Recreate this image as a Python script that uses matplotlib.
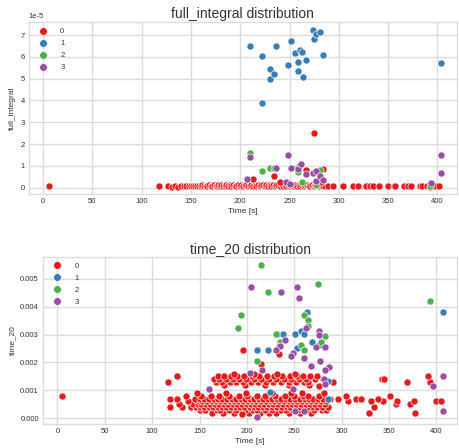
import numpy as np
import matplotlib
matplotlib.use("Agg")
import matplotlib.pyplot as plt
from matplotlib.lines import Line2D

plt.rcParams['font.family'] = ['Liberation Sans', 'DejaVu Sans']
plt.rcParams['axes.unicode_minus'] = False

# cluster colours (Set1)
COLORS = {0: '#e41a1c', 1: '#377eb8', 2: '#4daf4a', 3: '#984ea3'}

# ---------------- full_integral panel (values in units of 1e-5) ----------------
fi_red_t = [6, 118, 127, 131, 134, 137, 140, 143, 145, 148, 150, 152, 154, 156, 158,
            160, 161, 163, 165, 166, 168, 170, 171, 173, 175, 176, 178, 180, 181, 183,
            185, 186, 188, 190, 191, 193, 195, 196, 198, 200, 201, 203, 205, 206, 208,
            210, 211, 213, 215, 216, 218, 220, 221, 223, 225, 226, 228, 230, 231, 233,
            235, 236, 238, 240, 241, 243, 245, 246, 248, 250, 251, 253, 255, 256, 258,
            260, 261, 263, 265, 266, 268, 270, 271, 273, 275, 276, 278, 280, 282, 284,
            286, 289, 294, 304, 314, 319, 328, 332, 335, 341, 350, 356, 357, 366, 370,
            373, 382, 384, 389, 392, 395, 399, 402,
            275.3, 234, 213, 266.5, 284, 240.5, 282]
fi_red_v = [0.07, 0.06, 0.06, 0.05, 0.06, 0.05, 0.07, 0.06, 0.08, 0.06, 0.07, 0.08, 0.06, 0.09, 0.07,
            0.08, 0.10, 0.07, 0.09, 0.06, 0.10, 0.08, 0.07, 0.11, 0.09, 0.06, 0.10, 0.08, 0.12, 0.07,
            0.09, 0.11, 0.06, 0.10, 0.08, 0.12, 0.09, 0.07, 0.11, 0.08, 0.13, 0.06, 0.10, 0.12, 0.08,
            0.09, 0.14, 0.07, 0.11, 0.09, 0.13, 0.06, 0.10, 0.12, 0.08, 0.14, 0.07, 0.11, 0.09, 0.13,
            0.06, 0.10, 0.12, 0.08, 0.15, 0.07, 0.11, 0.09, 0.13, 0.06, 0.10, 0.12, 0.08, 0.14, 0.07,
            0.11, 0.09, 0.13, 0.06, 0.10, 0.12, 0.08, 0.07, 0.11, 0.09, 0.13, 0.10, 0.08, 0.12, 0.07,
            0.09, 0.08, 0.06, 0.08, 0.07, 0.08, 0.07, 0.07, 0.06, 0.08, 0.07, 0.08, 0.09, 0.07, 0.07,
            0.06, 0.07, 0.08, 0.06, 0.05, 0.07, 0.06, 0.07,
            2.49, 0.54, 0.40, 0.80, 0.84, 0.28, 0.25]

fi_blue_t = [209.7, 221.6, 221.6, 230, 230, 234, 236, 248.5, 251.3, 255.6, 259, 259,
             260.7, 262.4, 263.4, 266.5, 274.3, 274.9, 276.6, 280.6, 284, 404]
fi_blue_v = [6.50, 3.87, 6.04, 5.46, 4.97, 5.22, 6.50, 5.61, 6.74, 6.19, 5.78, 5.35,
             6.32, 6.24, 5.06, 5.86, 7.23, 6.82, 7.06, 7.16, 6.10, 5.70]

fi_green_t = [209.7, 221.6, 230, 234, 257, 259, 263, 280.6, 392, 260, 277]
fi_green_v = [1.58, 0.78, 0.92, 0.88, 0.88, 0.72, 0.28, 0.81, 0.09, 0.98, 0.10]

fi_purple_t = [209.7, 207, 236, 248.9, 246.9, 252, 259, 261.9, 266.5, 273.8, 276.6,
               276.6, 281.3, 284, 393, 404, 404, 250.5]
fi_purple_v = [1.42, 0.38, 0.88, 1.50, 0.28, 0.88, 0.85, 1.09, 0.63, 0.69, 0.78,
               0.31, 0.54, 0.35, 0.22, 1.50, 0.69, 0.18]

# ---------------- time_20 panel (values in ms, i.e. units of 1e-3) ----------------
t20_red_rows = {
    0.2: [163, 175, 186, 195, 202, 214, 223, 231, 244, 256, 268, 329, 377],
    0.3: [150, 156, 168, 172, 181, 189, 198, 206, 211, 219, 227, 236, 241, 249, 254,
          262, 271, 279, 284],
    0.4: [119, 131, 141, 146, 151, 155, 160, 164, 169, 174, 178, 183, 188, 193, 197,
          203, 207, 212, 217, 221, 226, 232, 237, 242, 246, 251, 255, 260, 265, 270,
          274, 279, 286, 334],
    0.5: [128, 143, 148, 152, 157, 161, 166, 171, 176, 180, 185, 190, 195, 200, 204,
          209, 214, 218, 223, 228, 233, 238, 243, 248, 252, 257, 262, 267, 272, 277,
          282, 357, 372],
    0.6: [138, 149, 153, 158, 163, 167, 172, 177, 182, 186, 191, 196, 201, 205, 210,
          215, 220, 225, 229, 234, 239, 244, 249, 253, 258, 263, 268, 273, 278, 283,
          307, 331, 344, 359, 376, 400, 405],
    0.7: [119, 126, 145, 150, 155, 160, 165, 170, 174, 179, 184, 189, 194, 198, 203,
          208, 213, 217, 222, 227, 232, 236, 241, 246, 251, 256, 261, 266, 270, 275,
          280, 288, 296, 315, 321, 338],
    0.8: [5, 136, 152, 162, 171, 181, 192, 200, 211, 219, 230, 240, 250, 259, 264,
          276, 305, 351],
    0.9: [147, 178, 199, 226, 247, 258, 281],
    1.2: [176, 198, 219, 244, 266],
    1.3: [117, 167, 174, 182, 189, 196, 204, 212, 220, 228, 236, 244, 252, 260, 265,
          284, 291, 369, 393],
    1.4: [165, 171, 178, 185, 192, 199, 207, 215, 223, 231, 239, 247, 255, 262, 272,
          280, 343, 345],
    1.5: [126, 169, 176, 183, 190, 197, 205, 213, 221, 229, 237, 245, 253, 259, 267,
          274, 391],
    1.6: [186, 208, 232, 251],
}
t20_red_extra_t = [195.4, 234, 215, 195, 276.4]
t20_red_extra_v = [2.43, 2.31, 1.93, 0.15, 1.14]

t20_blue_t = [210.5, 222.8, 232.7, 237.6, 250.3, 253.1, 257.3, 260.8, 263.3, 268.6,
              276.4, 285.5, 406.6, 224, 286]
t20_blue_v = [2.43, 2.43, 3.03, 3.03, 3.03, 2.53, 3.14, 3.03, 3.83, 2.73,
              2.64, 1.34, 3.83, 0.95, 0.70]

t20_green_t = [215.1, 275, 222.8, 194, 190.1, 260.5, 265, 265, 231, 235.2, 234,
               257.3, 260.8, 282.7, 278.5, 210.5, 393.6]
t20_green_v = [5.51, 4.82, 4.52, 3.72, 3.22, 3.72, 3.51, 3.32, 3.03, 2.73, 2.60,
               2.64, 2.43, 2.94, 2.73, 2.04, 4.22]

t20_purple_t = [204.5, 236.2, 253.1, 254.5, 262.3, 240.4, 235.2, 231, 248.6, 246.5,
                272.9, 276.4, 276.4, 282, 260.8, 268, 277.4, 286.2, 282.7, 281.6,
                282.7, 215.8, 203.5, 159.5, 211.2, 251, 259.8, 249.2, 396, 406.6, 406.6]
t20_purple_v = [4.71, 4.52, 4.71, 4.32, 3.22, 2.82, 2.60, 2.43, 2.34, 2.24,
                2.55, 3.12, 2.97, 2.55, 2.16, 1.86, 2.04, 1.83, 1.74, 1.41,
                1.23, 1.74, 1.62, 1.04, 0.04, 0.24, 0.24, 1.04, 1.14, 1.53, 0.24]

# flatten the time_20 red rows
t20_red_t = [t for lvl in t20_red_rows for t in t20_red_rows[lvl]] + t20_red_extra_t
t20_red_v = [lvl for lvl in t20_red_rows for _ in t20_red_rows[lvl]] + t20_red_extra_v

GRID = '#dcdcdc'
TXT = '#333333'


def style_axes(ax):
    ax.set_facecolor('white')
    ax.grid(True, color=GRID, linewidth=1.0)
    ax.set_axisbelow(True)
    for s in ax.spines.values():
        s.set_color(GRID)
        s.set_linewidth(1.0)
    ax.tick_params(length=0, labelsize=5.5, colors=TXT, pad=3)


def draw(ax, series, scale):
    for c, (t, v) in enumerate(series):
        ax.scatter(t, np.array(v) * scale, s=26, color=COLORS[c],
                   edgecolors='white', linewidths=0.45, zorder=2)
    handles = [Line2D([], [], marker='o', linestyle='', markersize=5.5,
                      markerfacecolor=COLORS[c], markeredgecolor='white',
                      markeredgewidth=0.4) for c in range(4)]
    ax.legend(handles, ['0', '1', '2', '3'], loc='upper left', frameon=False,
              fontsize=5.5, handletextpad=1.3, labelspacing=0.6,
              borderaxespad=0.4, labelcolor=TXT)


fig = plt.figure(figsize=(4.59, 4.48), dpi=100)
ax1 = fig.add_axes([0.063, 0.567, 0.932, 0.384])
ax2 = fig.add_axes([0.094, 0.054, 0.902, 0.373])

style_axes(ax1)
draw(ax1, [(fi_red_t, fi_red_v), (fi_blue_t, fi_blue_v),
           (fi_green_t, fi_green_v), (fi_purple_t, fi_purple_v)], 1e-5)
ax1.set_xlim(-14.2, 419.5)
ax1.set_ylim(-0.29e-5, 7.6e-5)
ax1.set_xticks([0, 50, 100, 150, 200, 250, 300, 350, 400])
ax1.set_yticks(np.arange(0, 8) * 1e-5)
ax1.yaxis.get_offset_text().set_fontsize(5.5)
ax1.yaxis.get_offset_text().set_color(TXT)
ax1.set_title('full_integral distribution', fontsize=10, color=TXT, pad=3)
ax1.set_xlabel('Time [s]', fontsize=6, color=TXT, labelpad=2)
ax1.set_ylabel('full_integral', fontsize=6, color=TXT, labelpad=3)

style_axes(ax2)
draw(ax2, [(t20_red_t, t20_red_v), (t20_blue_t, t20_blue_v),
           (t20_green_t, t20_green_v), (t20_purple_t, t20_purple_v)], 1e-3)
ax2.set_xlim(-15.1, 422)
ax2.set_ylim(-0.205e-3, 5.8e-3)
ax2.set_xticks([0, 50, 100, 150, 200, 250, 300, 350, 400])
ax2.set_yticks([0, 0.001, 0.002, 0.003, 0.004, 0.005])
ax2.set_yticklabels(['0.000', '0.001', '0.002', '0.003', '0.004', '0.005'])
ax2.set_title('time_20 distribution', fontsize=10, color=TXT, pad=3)
ax2.set_xlabel('Time [s]', fontsize=6, color=TXT, labelpad=2)
ax2.set_ylabel('time_20', fontsize=6, color=TXT, labelpad=3)

fig.savefig('out.png', dpi=100)
